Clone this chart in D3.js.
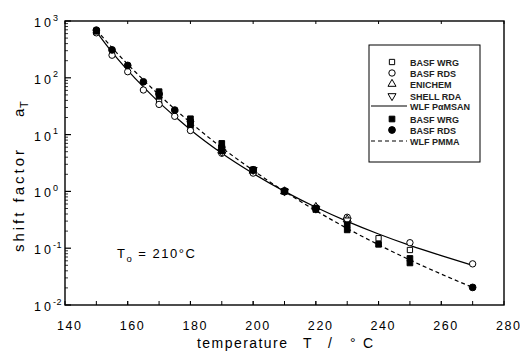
<!DOCTYPE html>
<html>
<head>
<meta charset="utf-8">
<script src="https://cdn.jsdelivr.net/npm/d3@7"></script>
<style>
  body { margin: 0; background: #fff; }
  svg { font-family: "Liberation Sans", Arial, sans-serif; }
</style>
</head>
<body>
<div id="container"></div>
<script>
// temperature / shift factor pairs
const basfWrgOpen = [[150, 640], [170, 38], [180, 13], [190, 5], [200, 2.2], [210, 1.0], [220, 0.5], [230, 0.3], [240, 0.15], [250, 0.093]];
const basfRdsOpen = [[150, 620], [155, 250], [160, 128], [165, 61], [170, 34], [175, 21], [180, 11.8], [190, 4.7], [200, 2.1], [210, 1.0], [220, 0.52], [230, 0.35], [250, 0.125], [270, 0.053]];
const enichem = [[190, 5.2], [200, 2.3], [210, 1.0], [220, 0.53], [230, 0.32]];
const shellRda = [[190, 5.0], [200, 2.4], [210, 1.0], [220, 0.5], [230, 0.31]];
const basfWrgFilled = [[150, 660], [170, 57], [170, 48], [180, 19], [180, 15], [190, 7], [190, 5.2], [200, 2.4], [210, 1.0], [220, 0.48], [230, 0.26], [230, 0.21], [240, 0.117], [250, 0.066], [250, 0.055]];
const basfRdsFilled = [[150, 690], [155, 310], [160, 165], [165, 85], [170, 52], [175, 27], [180, 17], [190, 6], [200, 2.4], [210, 1.02], [220, 0.5], [270, 0.0204]];
const wlfPaMSAN = [[150, 650], [155, 282], [160, 135], [165, 69], [170, 37], [175, 21], [180, 12.2], [190, 4.7], [200, 2.07], [210, 1.0], [220, 0.526], [230, 0.297], [240, 0.178], [250, 0.112], [260, 0.074], [270, 0.05]];
const wlfPMMA = [[150, 700], [155, 339], [160, 173], [165, 92], [170, 50], [175, 28.2], [180, 16.3], [190, 5.9], [200, 2.34], [210, 1.0], [220, 0.458], [230, 0.223], [240, 0.115], [250, 0.062], [260, 0.035], [270, 0.0204]];

const xTicks = [140, 160, 180, 200, 220, 240, 260, 280];
const yExponents = [3, 2, 1, 0, -1, -2];
const legendLabels = ['BASF WRG', 'BASF RDS', 'ENICHEM', 'SHELL RDA', 'WLF P\u03B1MSAN', 'BASF WRG', 'BASF RDS', 'WLF PMMA'];

const W = 520, H = 356;
const m = { left: 65, right: 16, top: 21, bottom: 51 };

const svg = d3.select('#container').append('svg')
  .attr('width', W).attr('height', H);

const x = d3.scaleLinear().domain([140, 280]).range([m.left, W - m.right]);
const y = d3.scaleLog().domain([0.01, 1000]).range([H - m.bottom, m.top]);

// frame
svg.append('rect')
  .attr('x', x(140)).attr('y', y(1000))
  .attr('width', x(280) - x(140)).attr('height', y(0.01) - y(1000))
  .attr('fill', 'none').attr('stroke', '#000').attr('stroke-width', 1.4);

// x ticks (inward)
const xMinor = d3.range(150, 280, 10);
svg.append('g').selectAll('line').data(xTicks.concat(xMinor)).enter().append('line')
  .attr('x1', d => x(d)).attr('x2', d => x(d))
  .attr('y1', y(0.01)).attr('y2', y(0.01) - 4)
  .attr('stroke', '#000').attr('stroke-width', 1);
svg.append('g').selectAll('line').data(xTicks).enter().append('line')
  .attr('x1', d => x(d)).attr('x2', d => x(d))
  .attr('y1', y(1000)).attr('y2', y(1000) + 3)
  .attr('stroke', '#000').attr('stroke-width', 1);

svg.append('g').selectAll('text').data(xTicks).enter().append('text')
  .attr('x', d => x(d) + 4 - 12).attr('y', 330)
  .attr('font-size', 12.5)
  .attr('textLength', 24).attr('lengthAdjust', 'spacing')
  .text(d => d);

// y ticks: decades and minors
const yMinor = [];
yExponents.slice(1).forEach(e => {
  for (let k = 2; k <= 9; k++) yMinor.push(k * Math.pow(10, e));
});
svg.append('g').selectAll('line').data(yExponents).enter().append('line')
  .attr('x1', x(140)).attr('x2', x(140) + 6)
  .attr('y1', d => y(Math.pow(10, d))).attr('y2', d => y(Math.pow(10, d)))
  .attr('stroke', '#000').attr('stroke-width', 1.2);
svg.append('g').selectAll('line').data(yMinor).enter().append('line')
  .attr('x1', x(140)).attr('x2', x(140) + 3)
  .attr('y1', d => y(d)).attr('y2', d => y(d))
  .attr('stroke', '#000').attr('stroke-width', 0.8);

const yl = svg.append('g').selectAll('g').data(yExponents).enter().append('g');
yl.append('text')
  .attr('x', 34).attr('y', d => y(Math.pow(10, d)) + 6)
  .attr('font-size', 12.5).attr('textLength', 17).attr('lengthAdjust', 'spacing')
  .text('10');
yl.append('text')
  .attr('x', 53).attr('y', d => y(Math.pow(10, d)) - 0.5)
  .attr('font-size', 9).attr('letter-spacing', 0.5)
  .text(d => d < 0 ? '-' + (-d) : d);

// axis titles, spread out like the scanned original
const ytA = svg.append('g').attr('transform', 'translate(24,0) rotate(-90)');
ytA.append('text').attr('x', -252).attr('y', 0).attr('font-size', 15)
  .attr('textLength', 102).attr('lengthAdjust', 'spacing').text('shift factor');
ytA.append('text').attr('x', -117).attr('y', 0).attr('font-size', 15).text('a');
ytA.append('text').attr('x', -108).attr('y', 4).attr('font-size', 11).text('T');

const xt = svg.append('g').attr('font-size', 14);
xt.append('text').attr('x', 197).attr('y', 348)
  .attr('textLength', 90).attr('lengthAdjust', 'spacing').text('temperature');
xt.append('text').attr('x', 303).attr('y', 348).text('T');
xt.append('text').attr('x', 328).attr('y', 348).text('/');
xt.append('text').attr('x', 350).attr('y', 348)
  .attr('textLength', 23).attr('lengthAdjust', 'spacing').text('\u00B0C');

const t0 = svg.append('text').attr('x', 117).attr('y', 258).attr('font-size', 13)
  .attr('letter-spacing', 1.5);
t0.append('tspan').text('T');
t0.append('tspan').attr('dy', 4).attr('font-size', 9.5).text('o');
t0.append('tspan').attr('dy', -4).text(' = 210\u00B0C');

// curves
const line = d3.line().x(d => x(d[0])).y(d => y(d[1])).curve(d3.curveMonotoneX);
svg.append('path').datum(wlfPaMSAN).attr('d', line)
  .attr('fill', 'none').attr('stroke', '#000').attr('stroke-width', 1.2);
svg.append('path').datum(wlfPMMA).attr('d', line)
  .attr('fill', 'none').attr('stroke', '#000').attr('stroke-width', 1.2)
  .attr('stroke-dasharray', '4,3');

// markers
const styles = [
  { data: basfWrgOpen, type: d3.symbolSquare, size: 28, fill: '#fff', rot: 0 },
  { data: basfRdsOpen, type: d3.symbolCircle, size: 32, fill: '#fff', rot: 0 },
  { data: enichem, type: d3.symbolTriangle, size: 28, fill: '#fff', rot: 0 },
  { data: shellRda, type: d3.symbolTriangle, size: 28, fill: '#fff', rot: 180 },
  { data: basfWrgFilled, type: d3.symbolSquare, size: 32, fill: '#000', rot: 0 },
  { data: basfRdsFilled, type: d3.symbolCircle, size: 36, fill: '#000', rot: 0 }
];
styles.forEach(s => {
  svg.append('g').selectAll('path').data(s.data).enter().append('path')
    .attr('d', d3.symbol().type(s.type).size(s.size))
    .attr('transform', d => 'translate(' + x(d[0]) + ',' + y(d[1]) + ') rotate(' + s.rot + ')')
    .attr('fill', s.fill).attr('stroke', '#000').attr('stroke-width', 1);
});

// legend
const lg = svg.append('g');
lg.append('rect').attr('x', 369).attr('y', 45).attr('width', 111).attr('height', 117)
  .attr('fill', '#fff').attr('stroke', '#000').attr('stroke-width', 1);
const rowY = [62, 73, 84, 96, 106, 119, 130, 141];
legendLabels.forEach((lab, i) => {
  lg.append('text').attr('x', 410).attr('y', rowY[i] + 3.5)
    .attr('font-size', 9).attr('font-weight', 'bold').attr('fill', '#222')
    .text(lab);
  if (i === 4 || i === 7) {
    lg.append('line').attr('x1', 371).attr('x2', 407)
      .attr('y1', rowY[i]).attr('y2', rowY[i])
      .attr('stroke', '#000').attr('stroke-width', 1.1)
      .attr('stroke-dasharray', i === 7 ? '4,3' : null);
  } else {
    const s = styles[i < 4 ? i : i - 1];
    lg.append('path')
      .attr('d', d3.symbol().type(s.type).size(s.size))
      .attr('transform', 'translate(392,' + rowY[i] + ') rotate(' + s.rot + ')')
      .attr('fill', s.fill).attr('stroke', '#000').attr('stroke-width', 1);
  }
});
</script>
</body>
</html>
